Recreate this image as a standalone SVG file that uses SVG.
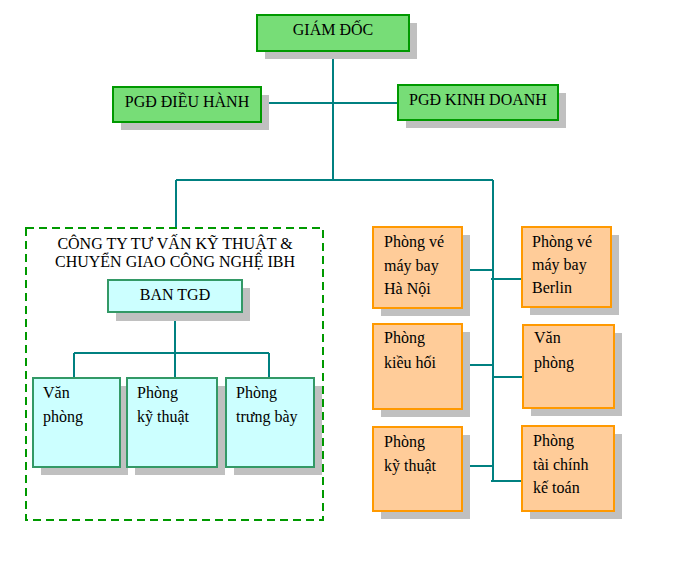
<svg xmlns="http://www.w3.org/2000/svg" width="677" height="562" viewBox="0 0 677 562">
<style>
text{font-family:"Liberation Serif","Times New Roman",serif;font-size:16px;fill:#000}
.c{text-anchor:middle}
.sh{fill:#c0c0c0}
.g{fill:#77dd77;stroke:#009900;stroke-width:2}
.b{fill:#ccffff;stroke:#339966;stroke-width:2}
.o{fill:#ffcc99;stroke:#ff9900;stroke-width:2}
.ln{stroke:#008080;stroke-width:2;fill:none}
</style>
<rect width="677" height="562" fill="#fff"/>
<g id="connectors">
<path class="ln" d="M333 51V180M261 103H398M176 180H493M176 180V228M493 180V481"/>
<path class="ln" d="M175 312V353M74 353H269M74 353V378M175 353V378M269 353V378"/>
<path class="ln" d="M462 270H493M462 365H493M462 466H493M491 279H522M493 377H523M491 481H522"/>
</g>
<g id="giam-doc"><rect class="sh" x="265" y="23" width="152" height="36"/><rect class="g" x="257" y="15" width="152" height="36"/><text class="c" x="333" y="35">GIÁM ĐỐC</text></g>
<g id="pgd-dieu-hanh"><rect class="sh" x="121" y="95" width="148" height="35"/><rect class="g" x="113" y="87" width="148" height="35"/><text class="c" x="187" y="107">PGĐ ĐIỀU HÀNH</text></g>
<g id="pgd-kinh-doanh"><rect class="sh" x="406" y="93" width="160" height="35"/><rect class="g" x="398" y="85" width="160" height="35"/><text class="c" x="478" y="105">PGĐ KINH DOANH</text></g>
<g id="cong-ty-ibh"><rect x="26" y="228" width="297" height="292" fill="none" stroke="#009900" stroke-width="2" stroke-dasharray="8,5"/><text class="c" x="175" y="249">CÔNG TY TƯ VẤN KỸ THUẬT &amp;</text><text class="c" x="175" y="267">CHUYỂN GIAO CÔNG NGHỆ IBH</text></g>
<g id="ban-tgd"><rect class="sh" x="116" y="288" width="134" height="33"/><rect class="b" x="108" y="280" width="134" height="32"/><text class="c" x="175" y="300">BAN TGĐ</text></g>
<g id="van-phong-ibh"><rect class="sh" x="41" y="386" width="87" height="89"/><rect class="b" x="33" y="378" width="87" height="89"/><text x="43" y="398">Văn</text><text x="43" y="422">phòng</text></g>
<g id="ky-thuat-ibh"><rect class="sh" x="135" y="386" width="90" height="89"/><rect class="b" x="127" y="378" width="90" height="89"/><text x="137" y="398">Phòng</text><text x="137" y="422">kỹ thuật</text></g>
<g id="trung-bay"><rect class="sh" x="234" y="386" width="88" height="89"/><rect class="b" x="226" y="378" width="88" height="89"/><text x="236" y="398">Phòng</text><text x="236" y="422">trưng bày</text></g>
<g id="ve-ha-noi"><rect class="sh" x="381" y="235" width="89" height="81"/><rect class="o" x="373" y="227" width="89" height="81"/><text x="384" y="247">Phòng vé</text><text x="384" y="271">máy bay</text><text x="384" y="294">Hà Nội</text></g>
<g id="ve-berlin"><rect class="sh" x="530" y="235" width="89" height="80"/><rect class="o" x="522" y="227" width="89" height="80"/><text x="532" y="247">Phòng vé</text><text x="532" y="270">máy bay</text><text x="532" y="293">Berlin</text></g>
<g id="kieu-hoi"><rect class="sh" x="381" y="332" width="89" height="85"/><rect class="o" x="373" y="324" width="89" height="85"/><text x="384" y="343">Phòng</text><text x="384" y="368">kiều hối</text></g>
<g id="van-phong"><rect class="sh" x="531" y="333" width="91" height="83"/><rect class="o" x="523" y="325" width="91" height="83"/><text x="534" y="343">Văn</text><text x="534" y="368">phòng</text></g>
<g id="ky-thuat"><rect class="sh" x="381" y="435" width="89" height="84"/><rect class="o" x="373" y="427" width="89" height="84"/><text x="384" y="447">Phòng</text><text x="384" y="471">kỹ thuật</text></g>
<g id="tai-chinh"><rect class="sh" x="530" y="434" width="92" height="85"/><rect class="o" x="522" y="426" width="92" height="85"/><text x="533" y="446">Phòng</text><text x="533" y="470">tài chính</text><text x="533" y="493">kế toán</text></g>
</svg>
